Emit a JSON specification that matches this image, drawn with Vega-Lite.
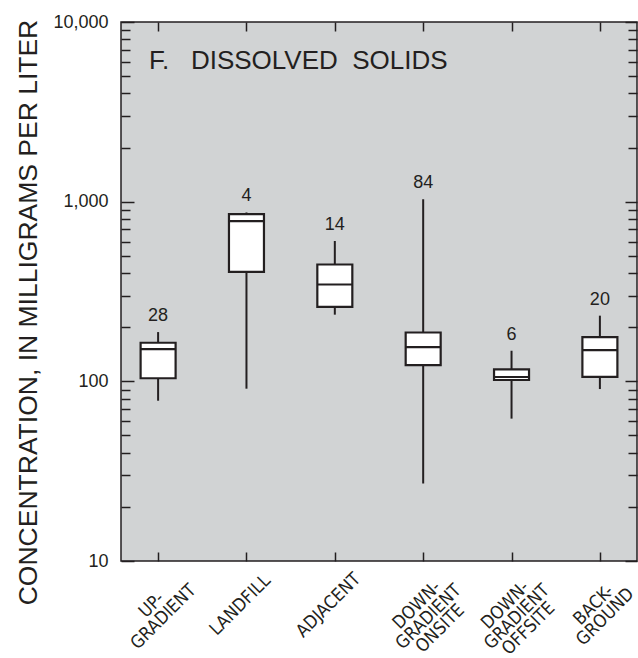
{
  "$schema": "https://vega.github.io/schema/vega-lite/v6.json",
  "width": 516,
  "height": 539,
  "autosize": {"type": "none"},
  "padding": {"left": 121, "top": 22, "right": 1, "bottom": 97},
  "background": "#ffffff",
  "title": {
    "text": "F.\u00a0\u00a0\u00a0DISSOLVED\u00a0\u00a0SOLIDS",
    "anchor": "start",
    "frame": "group",
    "offset": -82,
    "baseline": "alphabetic",
    "dx": 28,
    "fontSize": 26,
    "font": "Liberation Sans",
    "fontWeight": "normal",
    "color": "#231f20"
  },
  "data": {
    "values": [
      {"site": "UP-|GRADIENT", "n": 28, "min": 78, "q1": 104, "median": 151, "q3": 164, "max": 188},
      {"site": "LANDFILL", "n": 4, "min": 91, "q1": 407, "median": 780, "q3": 853, "max": 871},
      {"site": "ADJACENT", "n": 14, "min": 235, "q1": 260, "median": 346, "q3": 447, "max": 604},
      {"site": "DOWN-|GRADIENT|ONSITE", "n": 84, "min": 27, "q1": 123, "median": 155, "q3": 187, "max": 1030},
      {"site": "DOWN-|GRADIENT|OFFSITE", "n": 6, "min": 62, "q1": 101.7, "median": 105.7, "q3": 116.7, "max": 148},
      {"site": "BACK-|GROUND", "n": 20, "min": 90.6, "q1": 106, "median": 149, "q3": 176, "max": 232}
    ]
  },
  "layer": [
    {
      "mark": {"type": "rule", "color": "#231f20", "strokeWidth": 2},
      "encoding": {
        "x": {
          "field": "site", "type": "nominal", "sort": null,
          "scale": {"type": "point", "padding": 0.42},
          "axis": {
            "orient": "bottom", "title": null, "domain": false, "grid": false,
            "tickSize": -9, "tickWidth": 1.5, "tickColor": "#231f20",
            "labelExpr": "split(datum.label, '|')",
            "labelAngle": -45, "labelAlign": "center", "labelBaseline": "middle",
            "labelPadding": 53, "labelOffset": -6.5,
            "labelFont": "Liberation Sans Narrow, DejaVu Sans Condensed, Liberation Sans",
            "labelFontSize": 18, "labelLineHeight": 16.5, "labelColor": "#231f20",
            "labelOverlap": false, "labelBound": false, "labelFlush": false
          }
        },
        "y": {
          "field": "min", "type": "quantitative",
          "scale": {"type": "log", "domain": [10, 10000], "nice": false},
          "axis": {
            "orient": "left", "values": [10, 100, 1000, 10000], "format": ",",
            "domain": false, "grid": false,
            "tickSize": -13, "tickWidth": 1.5, "tickColor": "#231f20",
            "labelPadding": 26, "labelFont": "Liberation Sans", "labelFontSize": 18,
            "labelColor": "#231f20", "labelAlign": "right", "labelBaseline": "middle",
            "labelOverlap": false, "labelBound": false, "labelFlush": false,
            "title": "CONCENTRATION, IN MILLIGRAMS PER LITER",
            "titleFont": "Liberation Sans", "titleFontSize": 26.5, "titleFontWeight": "normal",
            "titleColor": "#231f20", "titleAngle": -90, "titleX": -93, "titleY": 290,
            "titleAlign": "center", "titleBaseline": "middle"
          }
        },
        "y2": {"field": "max"}
      }
    },
    {
      "mark": {"type": "bar", "size": 35, "fill": "#ffffff", "stroke": "#231f20", "strokeWidth": 2.2, "opacity": 1},
      "encoding": {
        "x": {
          "field": "site", "type": "nominal", "sort": null,
          "axis": {
            "orient": "top", "title": null, "domain": false, "grid": false, "labels": false,
            "tickSize": -9, "tickWidth": 1.5, "tickColor": "#231f20"
          }
        },
        "y": {
          "field": "q1", "type": "quantitative",
          "axis": {
            "orient": "left", "title": null, "domain": false, "grid": false, "labels": false,
            "values": [20, 30, 40, 50, 60, 70, 80, 90, 200, 300, 400, 500, 600, 700, 800, 900, 2000, 3000, 4000, 5000, 6000, 7000, 8000, 9000],
            "tickSize": -9, "tickWidth": 1.5, "tickColor": "#231f20"
          }
        },
        "y2": {"field": "q3"}
      }
    },
    {
      "mark": {"type": "tick", "size": 35, "thickness": 2.2, "color": "#231f20", "opacity": 1},
      "encoding": {
        "x": {"field": "site", "type": "nominal", "sort": null, "axis": null},
        "y": {
          "field": "median", "type": "quantitative",
          "axis": {
            "orient": "right", "title": null, "domain": false, "grid": false, "labels": false,
            "values": [10, 100, 1000, 10000],
            "tickSize": -12, "tickWidth": 1.5, "tickColor": "#231f20"
          }
        }
      }
    },
    {
      "mark": {"type": "text", "baseline": "bottom", "dy": -7, "fontSize": 18, "font": "Liberation Sans", "color": "#231f20"},
      "encoding": {
        "x": {"field": "site", "type": "nominal", "sort": null, "axis": null},
        "y": {
          "field": "max", "type": "quantitative",
          "axis": {
            "orient": "right", "title": null, "domain": false, "grid": false, "labels": false,
            "values": [20, 30, 40, 50, 60, 70, 80, 90, 200, 300, 400, 500, 600, 700, 800, 900, 2000, 3000, 4000, 5000, 6000, 7000, 8000, 9000],
            "tickSize": -9, "tickWidth": 1.5, "tickColor": "#231f20"
          }
        },
        "text": {"field": "n", "type": "quantitative"}
      }
    }
  ],
  "resolve": {"axis": {"x": "independent", "y": "independent"}},
  "config": {
    "view": {"fill": "#d1d3d4", "stroke": "#231f20", "strokeWidth": 1.5},
    "font": "Liberation Sans"
  }
}
